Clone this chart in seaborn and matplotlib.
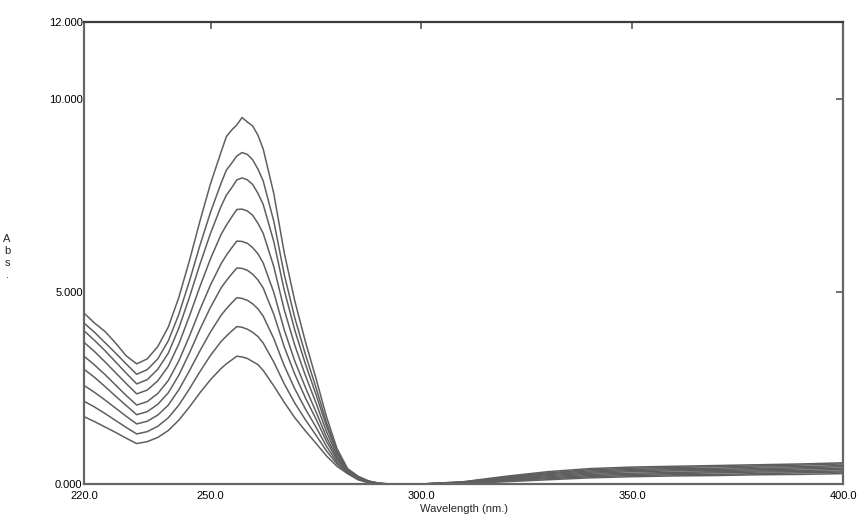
import matplotlib
matplotlib.use("Agg")
import matplotlib.pyplot as plt
import seaborn as sns
import pandas as pd

# Wavelength grid (nm)
wavelength = [220, 222.5, 225, 227.5, 230, 232.5, 235, 237.5, 240, 242.5, 245, 247.5,
              250, 252.5, 253.75, 255, 256.25, 257.5, 258.75, 260, 261.25, 262.5,
              265, 267.5, 270, 272.5, 275, 277.5,
              280, 282.5, 285, 287.5, 290, 292.5, 295, 297.5, 300,
              310, 320, 330, 340, 350, 360, 370, 380, 390, 400]

# Absorbance spectra (9 concentrations)
abs_1 = [4.44, 4.18, 3.96, 3.66, 3.33, 3.12, 3.25, 3.57, 4.08, 4.85, 5.80, 6.83,
         7.80, 8.62, 9.02, 9.19, 9.33, 9.52, 9.40, 9.30, 9.06, 8.70,
         7.55, 6.00, 4.75, 3.70, 2.75, 1.75,
         0.92, 0.40, 0.20, 0.08, 0.02, 0, 0, 0, 0,
         0.06, 0.20, 0.32, 0.40, 0.44, 0.46, 0.48, 0.50, 0.52, 0.55]
abs_2 = [4.18, 3.94, 3.67, 3.40, 3.12, 2.85, 2.97, 3.25, 3.72, 4.41, 5.27, 6.20,
         7.06, 7.81, 8.15, 8.33, 8.52, 8.61, 8.56, 8.42, 8.18, 7.87,
         6.83, 5.44, 4.31, 3.37, 2.51, 1.60,
         0.85, 0.38, 0.19, 0.07, 0.02, 0, 0, 0, 0,
         0.05, 0.18, 0.29, 0.37, 0.41, 0.43, 0.45, 0.47, 0.49, 0.52]
abs_3 = [3.98, 3.73, 3.46, 3.17, 2.88, 2.60, 2.71, 2.98, 3.40, 4.05, 4.85, 5.71,
         6.51, 7.21, 7.50, 7.69, 7.90, 7.95, 7.90, 7.78, 7.55, 7.26,
         6.30, 5.03, 3.99, 3.12, 2.33, 1.50,
         0.81, 0.37, 0.18, 0.07, 0.02, 0, 0, 0, 0,
         0.05, 0.17, 0.27, 0.34, 0.38, 0.40, 0.41, 0.44, 0.45, 0.48]
abs_4 = [3.68, 3.44, 3.17, 2.89, 2.61, 2.34, 2.44, 2.68, 3.06, 3.64, 4.36, 5.13,
         5.85, 6.48, 6.72, 6.93, 7.13, 7.14, 7.09, 6.98, 6.77, 6.51,
         5.65, 4.52, 3.60, 2.82, 2.11, 1.36,
         0.74, 0.35, 0.17, 0.06, 0.01, 0, 0, 0, 0,
         0.04, 0.15, 0.24, 0.31, 0.35, 0.37, 0.38, 0.40, 0.42, 0.45]
abs_5 = [3.32, 3.09, 2.84, 2.57, 2.30, 2.05, 2.14, 2.35, 2.69, 3.20, 3.84, 4.53,
         5.17, 5.72, 5.94, 6.13, 6.31, 6.30, 6.25, 6.14, 5.98, 5.74,
         4.98, 4.00, 3.19, 2.51, 1.88, 1.22,
         0.68, 0.33, 0.16, 0.06, 0.01, 0, 0, 0, 0,
         0.03, 0.13, 0.22, 0.28, 0.32, 0.34, 0.35, 0.37, 0.39, 0.41]
abs_6 = [2.98, 2.77, 2.53, 2.28, 2.04, 1.80, 1.88, 2.07, 2.37, 2.83, 3.40, 4.02,
         4.59, 5.09, 5.28, 5.45, 5.61, 5.60, 5.55, 5.45, 5.30, 5.09,
         4.41, 3.56, 2.85, 2.24, 1.69, 1.11,
         0.63, 0.32, 0.15, 0.05, 0.01, 0, 0, 0, 0,
         0.03, 0.11, 0.19, 0.25, 0.28, 0.30, 0.32, 0.34, 0.35, 0.38]
abs_7 = [2.56, 2.38, 2.18, 1.97, 1.76, 1.56, 1.63, 1.79, 2.05, 2.45, 2.94, 3.46,
         3.95, 4.38, 4.55, 4.70, 4.84, 4.82, 4.77, 4.68, 4.55, 4.36,
         3.78, 3.07, 2.47, 1.95, 1.48, 0.98,
         0.57, 0.30, 0.14, 0.04, 0.01, 0, 0, 0, 0,
         0.02, 0.10, 0.16, 0.22, 0.25, 0.27, 0.29, 0.31, 0.32, 0.34]
abs_8 = [2.15, 2.00, 1.83, 1.65, 1.47, 1.30, 1.36, 1.50, 1.72, 2.05, 2.47, 2.92,
         3.34, 3.70, 3.84, 3.97, 4.09, 4.07, 4.02, 3.94, 3.83, 3.66,
         3.17, 2.60, 2.10, 1.67, 1.27, 0.86,
         0.52, 0.28, 0.12, 0.04, 0, 0, 0, 0, 0,
         0.02, 0.08, 0.14, 0.19, 0.22, 0.24, 0.25, 0.27, 0.29, 0.31]
abs_9 = [1.75, 1.62, 1.48, 1.34, 1.19, 1.05, 1.10, 1.21, 1.39, 1.66, 2.00, 2.37,
         2.71, 3.00, 3.12, 3.22, 3.32, 3.30, 3.26, 3.18, 3.10, 2.95,
         2.55, 2.12, 1.72, 1.38, 1.06, 0.73,
         0.46, 0.27, 0.11, 0.03, 0, 0, 0, 0, 0,
         0.01, 0.06, 0.11, 0.16, 0.19, 0.21, 0.22, 0.24, 0.25, 0.27]

series = [abs_1, abs_2, abs_3, abs_4, abs_5, abs_6, abs_7, abs_8, abs_9]

x_ticks = [220, 250, 300, 350, 400]
x_tick_labels = ["220.0", "250.0", "300.0", "350.0", "400.0"]
y_ticks = [0, 5, 10, 12]
y_tick_labels = ["0.000", "5.000", "10.000", "12.000"]

rows = []
for i, s in enumerate(series):
    for w, a in zip(wavelength, s):
        rows.append({"Wavelength": w, "Abs": a, "curve": f"c{i+1}"})
df = pd.DataFrame(rows)

sns.set_style("white")
plt.rcParams["font.family"] = ["Liberation Sans", "DejaVu Sans"]

fig = plt.figure(figsize=(8.66, 5.25), dpi=100)
ax = fig.add_axes([84 / 866, 1 - 484 / 525, (843 - 84) / 866, (484 - 22) / 525])

sns.lineplot(data=df, x="Wavelength", y="Abs", hue="curve",
             palette=["#5f5f5f"] * 9, linewidth=1.1, legend=False,
             estimator=None, sort=False, ax=ax)

ax.set_xlim(220, 400)
ax.set_ylim(0, 12)
ax.set_xticks(x_ticks)
ax.set_xticklabels(x_tick_labels)
ax.set_yticks(y_ticks)
ax.set_yticklabels(y_tick_labels)
ax.tick_params(axis="both", direction="in", length=5, width=1.3, color="#666666",
               labelsize=8, labelcolor="black", top=True, right=True, pad=5)
ax.tick_params(axis="y", pad=1)
for side, sp in ax.spines.items():
    sp.set_color("#666666")
    sp.set_linewidth(1.6)
ax.spines["top"].set_color("#3c3c3c")

ax.set_xlabel("Wavelength (nm.)", fontsize=8, labelpad=2)
ax.set_ylabel("")
fig.text(7 / 866, 1 - 257 / 525, "A\nb\ns\n.", fontsize=8, ha="center", va="center",
         linespacing=1.25)

fig.savefig("out.png", dpi=100, facecolor="white")
